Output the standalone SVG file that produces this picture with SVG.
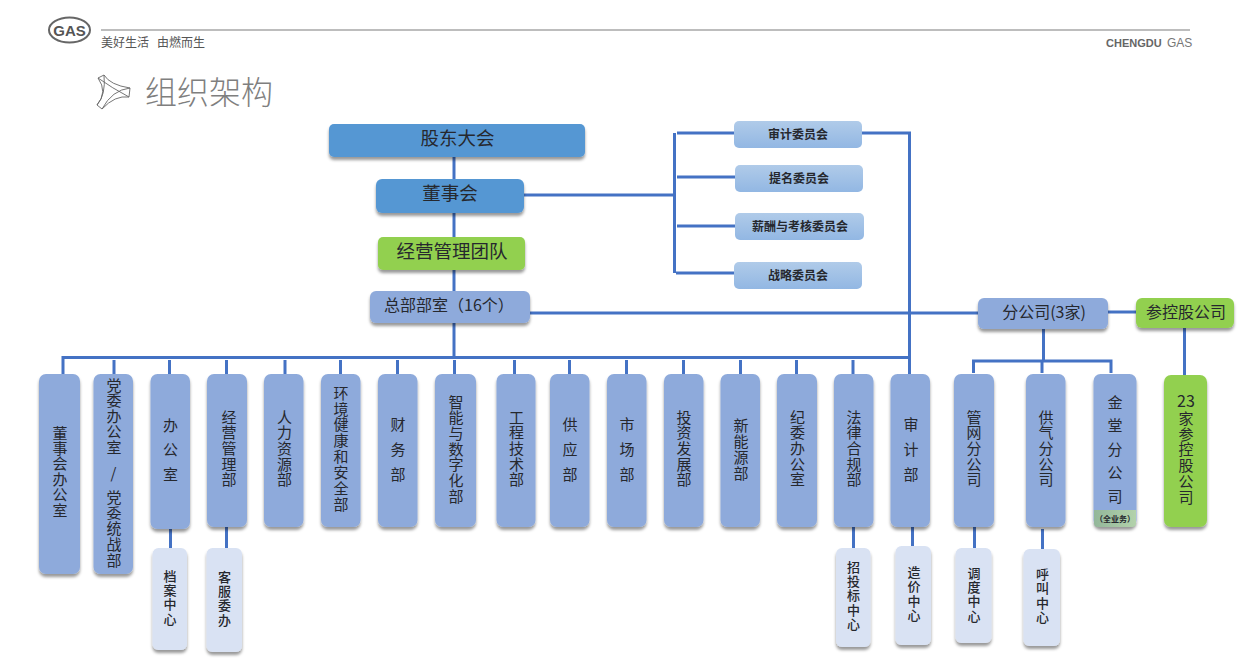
<svg xmlns="http://www.w3.org/2000/svg" width="1248" height="665" viewBox="0 0 1248 665">
<style>
text{font-family:"Noto Sans CJK SC","Liberation Sans",sans-serif;fill:#26282e}
.h{text-anchor:middle;dominant-baseline:central}
.v{writing-mode:vertical-rl;text-orientation:upright;font-size:15px}
.s{writing-mode:vertical-rl;text-orientation:upright;font-size:13px;font-weight:500;letter-spacing:1.2px}
.c{font-size:12px;font-weight:700}
.dept{fill:#8eaadb;filter:url(#sh)}
.sub{fill:#d9e2f3;filter:url(#sh)}
.blue{fill:#5597d3;filter:url(#sh)}
.green{fill:#92d050;filter:url(#sh)}
.com{fill:url(#cg)}
#connectors path{fill:none;stroke:#4472c4;stroke-width:3}
</style>
<defs>
<linearGradient id="cg" x1="0" y1="0" x2="0" y2="1"><stop offset="0" stop-color="#b0cbe9"/><stop offset="1" stop-color="#92b7e3"/></linearGradient>
<linearGradient id="gg" x1="0" y1="0" x2="1" y2="0"><stop offset="0" stop-color="#93b79a"/><stop offset="1" stop-color="#b3d2ab"/></linearGradient>
<filter id="sh" x="-20%" y="-20%" width="140%" height="140%"><feDropShadow dx="0" dy="3" stdDeviation="1.500" flood-color="#000" flood-opacity="0.4"/></filter>
</defs>

<g id="header">
<ellipse cx="69.500" cy="30" rx="20.500" ry="12.500" fill="none" stroke="#666" stroke-width="2"/>
<text x="69.500" y="30.500" class="h" style="font-family:'Liberation Sans',sans-serif;font-size:15px;font-weight:700;fill:#555">GAS</text>
<rect x="101" y="29" width="1089" height="2" fill="#bdbdbd"/>
<text x="101" y="47" style="font-size:12px;fill:#555">美好生活</text>
<text x="157" y="47" style="font-size:12px;fill:#555">由燃而生</text>
<text x="1106" y="46.500" style="font-family:'Liberation Sans',sans-serif;font-size:11px;font-weight:700;fill:#666">CHENGDU</text>
<text x="1167" y="46.500" style="font-family:'Liberation Sans',sans-serif;font-size:12px;fill:#777">GAS</text>
<g fill="none" stroke="#666" stroke-width="0.900">
<path d="M104 75Q110 85 130 88L129 97Q115 95 102 109L97 105Q108 92 98 78Z"/>
<path d="M98 78Q112 88 129 97M104 75Q106 95 97 105M130 88Q112 90 102 109"/>
</g>
<text x="145" y="104" style="font-size:32px;font-weight:300;fill:#7f7f7f">组织架构</text>
</g>

<g id="connectors">
<path d="M454 157V357"/>
<path d="M63 374V357.500H909"/>
<path d="M114 360V374M169.500 360V374M226.500 360V374M285 360V374M340.500 360V374M397.500 360V374M454.500 360V374M514.500 360V374M569.500 360V374M626.500 360V374M683.500 360V374M740.500 360V374M796.500 360V374M853 360V374"/>
<path d="M524 195H675M674.500 133V273M677 133H734M677 177H735M677 226H735M676 273H734"/>
<path d="M862 133H909.500V374"/>
<path d="M530 313H978M1108 312H1136"/>
<path d="M1043.500 329V361M973.500 373V361H1111V373M1042 361V373M1184.500 328V375"/>
<path d="M170.500 529V548M226.500 527V548M853.500 527V548M912.500 527V546M974.500 527V548M1042.500 529V549"/>
</g>

<g id="n-gudong"><rect class="blue" x="329" y="124" width="256" height="33" rx="5"/><text x="457.500" y="137" class="h" style="font-size:18.500px">股东大会</text></g>
<g id="n-dongshi"><rect class="blue" x="376" y="179" width="148" height="34" rx="6"/><text x="450" y="192" class="h" style="font-size:18.500px">董事会</text></g>
<g id="n-jingying"><rect class="green" x="378" y="237" width="147" height="33" rx="5"/><text x="452" y="249.500" class="h" style="font-size:18.500px">经营管理团队</text></g>
<g id="n-zongbu"><rect class="dept" x="370" y="291" width="160" height="32" rx="6"/><text x="449" y="304" class="h" style="font-size:16px">总部部室（16个）</text></g>

<g id="n-shenji-wei"><rect class="com" x="734" y="121" width="128" height="27" rx="5"/><text x="798" y="133" class="h c">审计委员会</text></g>
<g id="n-timing"><rect class="com" x="735" y="165" width="128" height="27" rx="5"/><text x="799" y="177" class="h c">提名委员会</text></g>
<g id="n-xinchou"><rect class="com" x="735" y="213" width="129" height="27" rx="5"/><text x="800" y="225" class="h c">薪酬与考核委员会</text></g>
<g id="n-zhanlue"><rect class="com" x="734" y="262" width="128" height="27" rx="5"/><text x="798" y="274" class="h c">战略委员会</text></g>

<g id="n-fengongsi"><rect class="dept" x="978" y="298" width="130" height="31" rx="6"/><text x="1044" y="311" class="h" style="font-size:16px">分公司(3家)</text></g>
<g id="n-cankong"><rect class="green" x="1136" y="298" width="98" height="30" rx="6"/><text x="1186" y="310.500" class="h" style="font-size:16px">参控股公司</text></g>

<g id="d1"><rect class="dept" x="39" y="374" width="41" height="200" rx="7"/><text x="60" y="425.500" class="v" style="letter-spacing:.4px">董事会办公室</text></g>
<g id="d2"><rect class="dept" x="93.500" y="374" width="39.500" height="200" rx="7"/><text x="114" y="377.500" class="v" style="letter-spacing:.5px">党委办公室</text><text x="113.500" y="472" class="h" style="font-size:15px">/</text><text x="114" y="489.500" class="v" style="letter-spacing:.8px">党委统战部</text></g>
<g id="d3"><rect class="dept" x="150.500" y="374" width="39.500" height="155" rx="7"/><text x="170.500" y="417.500" class="v" style="letter-spacing:9.500px">办公室</text></g>
<g id="d4"><rect class="dept" x="207" y="374" width="40" height="153" rx="7"/><text x="229" y="409.500" class="v" style="letter-spacing:.7px">经营管理部</text></g>
<g id="d5"><rect class="dept" x="264" y="374" width="39.500" height="153" rx="7"/><text x="284.500" y="409.500" class="v" style="letter-spacing:.7px">人力资源部</text></g>
<g id="d6"><rect class="dept" x="321" y="374" width="39.500" height="153" rx="7"/><text x="341" y="385.500" class="v" style="letter-spacing:.9px">环境健康和安全部</text></g>
<g id="d7"><rect class="dept" x="378" y="374" width="39.500" height="153" rx="7"/><text x="398" y="416.500" class="v" style="letter-spacing:10px">财务部</text></g>
<g id="d8"><rect class="dept" x="435" y="374" width="41" height="153" rx="7"/><text x="456" y="394.500" class="v" style="letter-spacing:.7px">智能与数字化部</text></g>
<g id="d9"><rect class="dept" x="496.500" y="374" width="39" height="153" rx="7"/><text x="516.500" y="409.500" class="v" style="letter-spacing:.7px">工程技术部</text></g>
<g id="d10"><rect class="dept" x="550" y="374" width="39.500" height="153" rx="7"/><text x="570" y="416.500" class="v" style="letter-spacing:10px">供应部</text></g>
<g id="d11"><rect class="dept" x="607" y="374" width="39.500" height="153" rx="7"/><text x="627" y="416.500" class="v" style="letter-spacing:10px">市场部</text></g>
<g id="d12"><rect class="dept" x="664" y="374" width="39.500" height="153" rx="7"/><text x="684" y="409.500" class="v" style="letter-spacing:.7px">投资发展部</text></g>
<g id="d13"><rect class="dept" x="720.500" y="374" width="39.500" height="153" rx="7"/><text x="741" y="417.500" class="v" style="letter-spacing:1px">新能源部</text></g>
<g id="d14"><rect class="dept" x="777" y="374" width="40" height="153" rx="7"/><text x="797.500" y="409.500" class="v" style="letter-spacing:.7px">纪委办公室</text></g>
<g id="d15"><rect class="dept" x="834" y="374" width="39.500" height="153" rx="7"/><text x="854" y="409.500" class="v" style="letter-spacing:.7px">法律合规部</text></g>
<g id="d16"><rect class="dept" x="890.500" y="374" width="39.500" height="153" rx="7"/><text x="911" y="416.500" class="v" style="letter-spacing:10px">审计部</text></g>

<g id="b1"><rect class="dept" x="954" y="374" width="40" height="153" rx="7"/><text x="974" y="409.500" class="v" style="letter-spacing:.7px">管网分公司</text></g>
<g id="b2"><rect class="dept" x="1026" y="374" width="39.500" height="153" rx="7"/><text x="1046" y="409.500" class="v" style="letter-spacing:.7px">供气分公司</text></g>
<g id="b3"><rect class="dept" x="1093.500" y="374" width="43" height="153" rx="7"/><path d="M1094 510H1136V523Q1136 527 1132 527H1098Q1094 527 1094 523Z" fill="url(#gg)"/><text x="1115" y="394.500" class="v" style="letter-spacing:8.500px">金堂分公司</text><text x="1115" y="518" class="h" style="font-size:8px;font-weight:700">（全业务）</text></g>
<g id="b4"><rect class="green" x="1164" y="375" width="43" height="152" rx="7"/><text x="1186" y="400" class="h" style="font-size:16px">23</text><text x="1186" y="410.500" class="v" style="letter-spacing:.9px">家参控股公司</text></g>

<g id="s1"><rect class="sub" x="152.500" y="548" width="34.500" height="102" rx="6"/><text x="170" y="569.500" class="s">档案中心</text></g>
<g id="s2"><rect class="sub" x="206.500" y="548" width="35.500" height="104" rx="6"/><text x="224.500" y="570.500" class="s">客服委办</text></g>
<g id="s3"><rect class="sub" x="836" y="548" width="34.500" height="99" rx="6"/><text x="853.500" y="560.500" class="s">招投标中心</text></g>
<g id="s4"><rect class="sub" x="895.500" y="546" width="35.500" height="99" rx="6"/><text x="914" y="565.500" class="s" style="letter-spacing:1.500px">造价中心</text></g>
<g id="s5"><rect class="sub" x="955.500" y="548" width="36" height="95" rx="6"/><text x="974" y="566.500" class="s">调度中心</text></g>
<g id="s6"><rect class="sub" x="1023.500" y="549" width="36.500" height="97" rx="6"/><text x="1042.500" y="567.500" class="s" style="letter-spacing:1.500px">呼叫中心</text></g>
</svg>
